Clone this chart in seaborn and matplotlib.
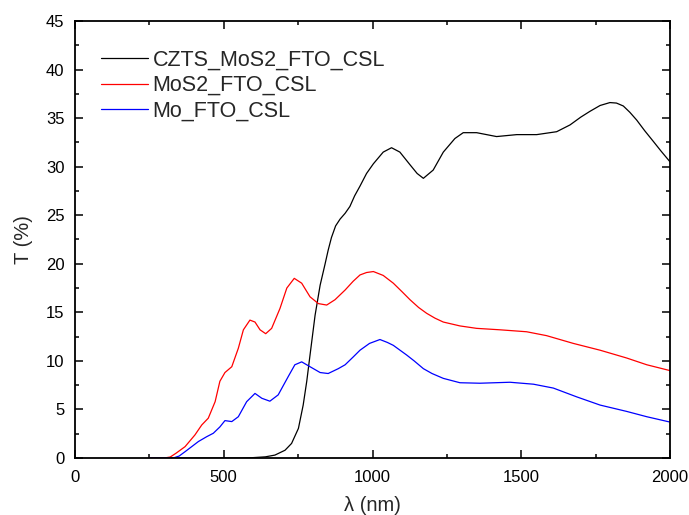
import matplotlib
matplotlib.use("Agg")
import matplotlib.pyplot as plt
import seaborn as sns
import pandas as pd
from matplotlib.ticker import MultipleLocator

# ---- data ----
czts_wl = [250, 400, 560, 594, 640, 672, 706, 728, 751, 767, 779, 790, 807, 824, 840, 851,
           862, 876, 891, 908, 924, 940, 958, 980, 1003, 1036, 1064, 1092, 1126, 1150, 1171,
           1204, 1238, 1277, 1305, 1350, 1417, 1485, 1552, 1619, 1664, 1700, 1731, 1765, 1798,
           1820, 1843, 1865, 1888, 1915, 1944, 1970, 2000]
czts_t = [0, 0, 0, 0.03, 0.12, 0.3, 0.8, 1.5, 3.05, 5.45, 7.9, 10.6, 14.7, 17.8, 19.9, 21.4,
          22.7, 23.9, 24.6, 25.2, 25.9, 27.0, 28.0, 29.3, 30.3, 31.5, 31.95, 31.5, 30.2, 29.3, 28.8,
          29.65, 31.5, 32.9, 33.5, 33.5, 33.1, 33.3, 33.3, 33.6, 34.3, 35.1, 35.7, 36.3, 36.6,
          36.55, 36.25, 35.6, 34.8, 33.7, 32.6, 31.6, 30.5]

mos2_wl = [250, 300, 320, 340, 370, 403, 426, 448, 471, 487, 504, 527, 549, 566, 588, 605,
           622, 641, 661, 689, 712, 737, 762, 790, 818, 846, 874, 908, 935, 958, 980, 1003,
           1036, 1070, 1100, 1126, 1155, 1182, 1210, 1238, 1294, 1350, 1429, 1518, 1585, 1675,
           1765, 1854, 1922, 2000]
mos2_t = [0, 0, 0.1, 0.5, 1.17, 2.37, 3.4, 4.1, 5.8, 7.9, 8.8, 9.4, 11.3, 13.2, 14.2, 14.0,
          13.2, 12.8, 13.35, 15.4, 17.5, 18.5, 18.0, 16.6, 15.9, 15.75, 16.3, 17.3, 18.2, 18.85, 19.1, 19.2,
          18.8, 18.0, 17.1, 16.3, 15.5, 14.9, 14.4, 14.0, 13.6, 13.35, 13.2, 13.0, 12.6, 11.8,
          11.1, 10.3, 9.6, 9.0]

mo_wl = [250, 330, 350, 370, 415, 443, 465, 487, 504, 527, 549, 577, 605, 628, 655, 683,
         717, 739, 762, 790, 824, 851, 885, 908, 935, 958, 990, 1025, 1050, 1070, 1115, 1140,
         1171, 1200, 1238, 1294, 1361, 1462, 1541, 1608, 1686, 1765, 1854, 1922, 2000]
mo_t = [0, 0, 0.2, 0.65, 1.7, 2.2, 2.55, 3.2, 3.85, 3.75, 4.25, 5.8, 6.65, 6.15, 5.85, 6.5,
        8.4, 9.6, 9.9, 9.4, 8.8, 8.7, 9.2, 9.6, 10.4, 11.1, 11.8, 12.2, 11.9, 11.6, 10.6, 10.0,
        9.2, 8.7, 8.2, 7.75, 7.7, 7.8, 7.6, 7.2, 6.3, 5.45, 4.8, 4.25, 3.7]

labels = ["CZTS_MoS2_FTO_CSL", "MoS2_FTO_CSL", "Mo_FTO_CSL"]
colors = ["#000000", "#ff0000", "#0000ff"]

df = pd.concat([
    pd.DataFrame({"wl": czts_wl, "T": czts_t, "sample": labels[0]}),
    pd.DataFrame({"wl": mos2_wl, "T": mos2_t, "sample": labels[1]}),
    pd.DataFrame({"wl": mo_wl, "T": mo_t, "sample": labels[2]}),
], ignore_index=True)

sns.set_style("ticks")
plt.rcParams["font.family"] = ["Liberation Sans", "DejaVu Sans"]

fig = plt.figure(figsize=(6.89, 5.15), dpi=100)
ax = fig.add_axes([75 / 689, 1 - 458 / 515, 595 / 689, 437 / 515])

sns.lineplot(data=df, x="wl", y="T", hue="sample", hue_order=labels,
             palette=dict(zip(labels, colors)), estimator=None, sort=False,
             linewidth=0.9, ax=ax)

ax.set_xlim(0, 2000)
ax.set_ylim(0, 45)
ax.xaxis.set_major_locator(MultipleLocator(500))
ax.xaxis.set_minor_locator(MultipleLocator(250))
ax.yaxis.set_major_locator(MultipleLocator(5))
ax.yaxis.set_minor_locator(MultipleLocator(2.5))
ax.tick_params(which="both", direction="in", top=True, right=True,
               labeltop=False, labelright=False, width=1.1, colors="black")
ax.tick_params(which="major", length=6, labelsize=12)
ax.tick_params(which="minor", length=3)
ax.tick_params(axis="x", which="major", pad=8.7)
ax.tick_params(axis="y", which="major", pad=7.5)
for s in ax.spines.values():
    s.set_linewidth(1.3)
    s.set_color("black")

ax.set_xlabel("λ (nm)", fontsize=14.5, labelpad=8)
ax.set_ylabel("T (%)", fontsize=14.5, labelpad=9)

handles, lbls = ax.get_legend_handles_labels()
leg = ax.legend(handles, lbls, loc="upper left", bbox_to_anchor=(0.0434, 0.934),
                frameon=False, fontsize=15.5, handlelength=2.2, handletextpad=0.2,
                labelspacing=0.2, borderpad=0, borderaxespad=0)
for line in leg.get_lines():
    line.set_linewidth(0.9)

fig.savefig("out.png", dpi=100)
